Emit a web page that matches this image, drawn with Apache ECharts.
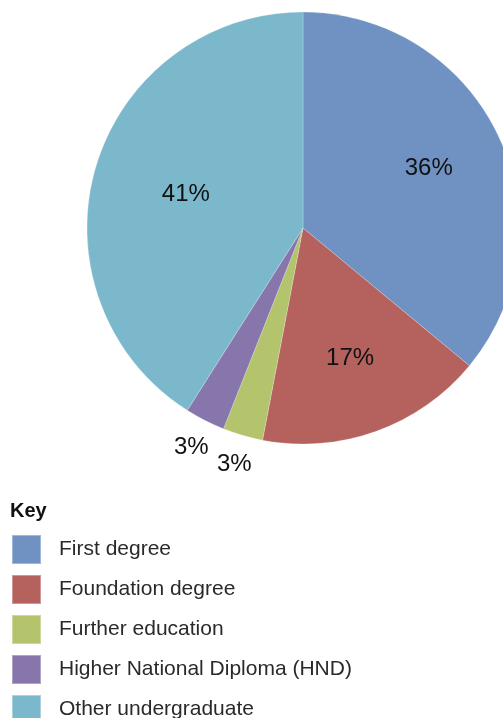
<!DOCTYPE html>
<html>
<head>
<meta charset="utf-8">
<script src="https://cdn.jsdelivr.net/npm/echarts@6/dist/echarts.min.js"></script>
<style>
  html, body { margin: 0; padding: 0; background: #fff; }
  #chart { width: 503px; height: 718px; }
</style>
</head>
<body>
<div id="chart"></div>
<script>
// Qualification categories and their shares (%)
const categories = ['First degree', 'Foundation degree', 'Further education', 'Higher National Diploma (HND)', 'Other undergraduate'];
const shares = [36, 17, 3, 3, 41];
const colors = ['#7092c3', '#b5625f', '#b3c46c', '#8676ab', '#7bb8cc'];
// Radius of the invisible ring whose mid-radius carries each slice's label
// (thin slices get their label pushed outside the rim)
const labelRingRadius = [272, 272, 486, 486, 238];

const FONT = '"Liberation Sans", Arial, Helvetica, sans-serif';
const center = [303, 228];
const R = 216;

const pieData = categories.map((name, i) => ({
  name, value: shares[i], itemStyle: { color: colors[i] }
}));

// Transparent overlay pies used only to place the percentage labels
function labelLayer(radius) {
  return {
    type: 'pie',
    silent: true,
    legendHoverLink: false,
    startAngle: 90,
    clockwise: true,
    center: center,
    radius: [0, radius],
    data: categories.map((name, i) => ({
      name, value: shares[i],
      itemStyle: { color: 'rgba(0,0,0,0)' },
      label: { show: labelRingRadius[i] === radius }
    })),
    label: {
      position: 'inside',
      formatter: '{c}%',
      fontFamily: FONT,
      fontSize: 24,
      color: '#111'
    },
    labelLine: { show: false },
    emphasis: { disabled: true },
    z: 5
  };
}

const ringRadii = [...new Set(labelRingRadius)];

const chart = echarts.init(document.getElementById('chart'), null, { renderer: 'canvas' });
chart.setOption({
  animation: false,
  title: {
    text: 'Key',
    left: 5,
    top: 496,
    textStyle: { fontFamily: FONT, fontSize: 20, fontWeight: 'bold', color: '#111' }
  },
  legend: {
    orient: 'vertical',
    left: 11,
    top: 534,
    height: 260,
    padding: 0,
    itemWidth: 29,
    itemHeight: 29,
    itemGap: 9,
    icon: 'rect',
    selectedMode: false,
    data: categories,
    textStyle: { fontFamily: FONT, fontSize: 21, color: '#2a2a2a', padding: [0, 0, 0, 13] }
  },
  series: [
    {
      type: 'pie',
      startAngle: 90,
      clockwise: true,
      center: center,
      radius: [0, R],
      data: pieData,
      label: { show: false },
      labelLine: { show: false },
      itemStyle: { borderColor: 'rgba(255,255,255,0.35)', borderWidth: 0.6 },
      emphasis: { disabled: true }
    },
    ...ringRadii.map(labelLayer)
  ]
});
</script>
</body>
</html>
